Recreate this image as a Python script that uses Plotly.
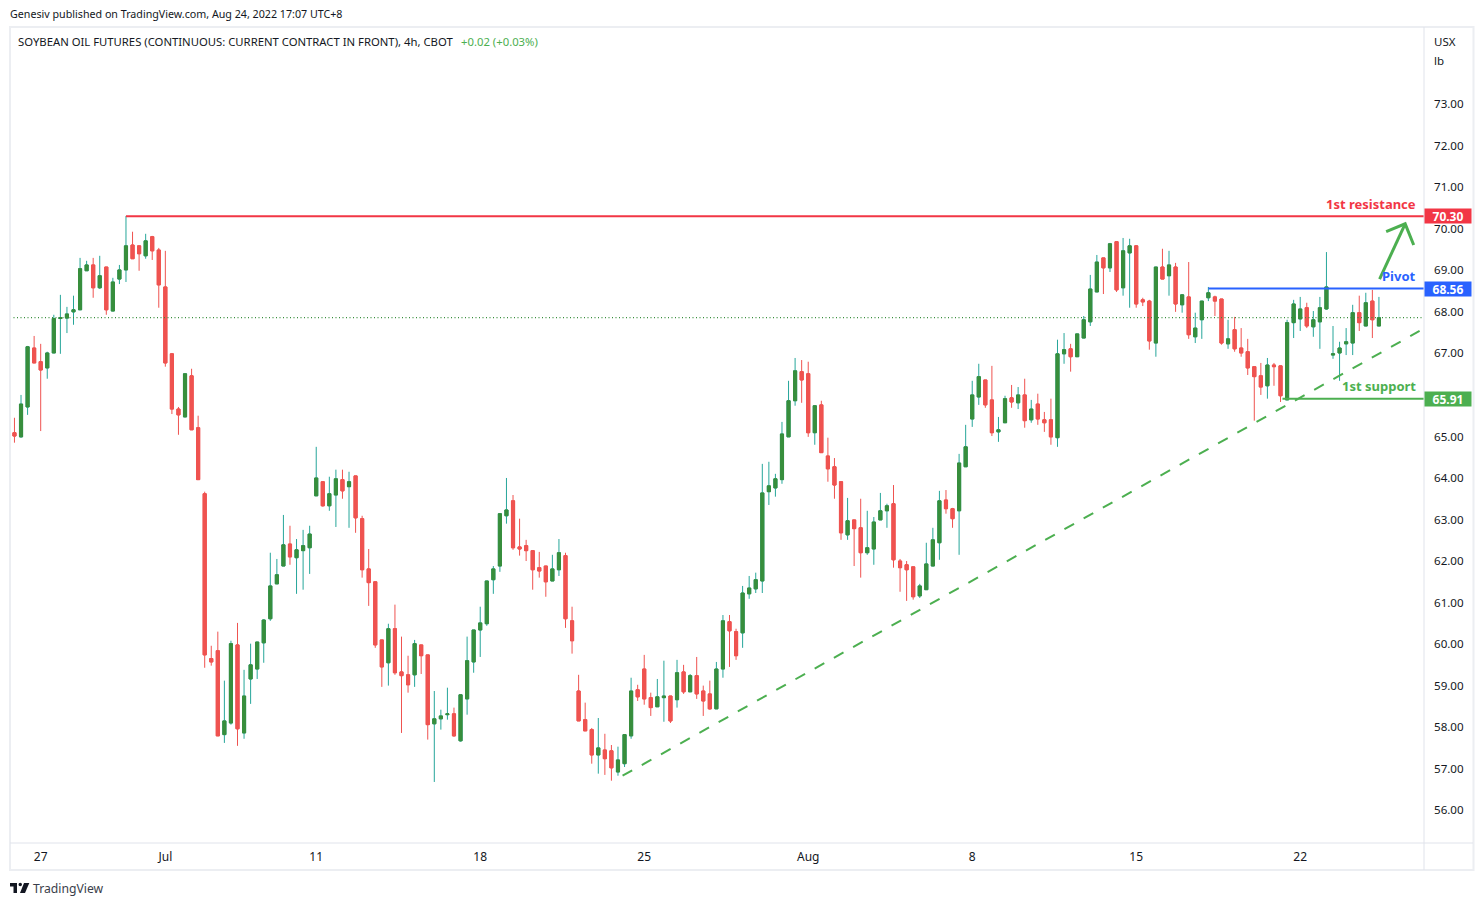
import plotly.graph_objects as go

# candles, 4h bars
opens = [65.09,64.99,65.71,67.13,66.80,66.65,67.01,67.84,67.85,68.00,
         68.05,68.99,69.13,68.58,69.08,68.02,68.79,69.01,69.61,69.59,
         69.35,69.81,69.49,68.60,66.99,65.66,65.47,66.46,65.21,63.62,
         59.65,59.84,57.82,58.10,59.98,57.86,59.16,59.40,60.03,60.61,
         61.45,61.88,62.41,62.08,62.25,62.32,63.57,63.91,63.33,63.59,
         63.96,63.79,64.05,63.02,61.81,61.50,60.10,59.55,60.37,59.33,
         59.26,59.26,59.98,59.74,58.08,58.20,58.30,58.32,57.67,58.68,
         59.57,60.34,60.49,61.55,61.88,63.09,63.45,62.34,62.37,62.25,
         61.84,61.88,61.52,61.79,62.13,60.56,58.87,58.18,57.94,57.33,
         57.45,57.43,56.92,57.12,57.79,58.90,59.40,58.71,58.49,58.71,
         58.75,58.66,59.33,58.85,59.24,58.87,58.80,58.44,59.40,60.54,
         60.30,60.27,61.21,61.33,61.52,63.67,63.76,63.96,64.99,65.86,
         66.56,66.51,65.09,65.76,64.53,64.27,63.91,62.63,62.99,62.80,
         62.20,62.29,62.99,63.21,63.38,62.00,61.91,61.86,61.16,61.31,
         61.88,62.44,63.47,63.26,63.21,64.27,65.42,65.95,66.36,65.88,
         65.11,65.33,65.93,65.81,66.00,65.40,65.78,65.40,65.40,64.97,
         66.99,67.11,66.92,67.37,67.76,68.48,69.30,69.06,69.69,68.58,
         69.42,69.59,68.29,68.26,67.25,69.08,68.87,69.08,68.17,68.36,
         67.40,67.81,68.34,68.36,68.31,67.23,67.57,67.13,67.04,66.68,
         66.46,66.22,66.72,66.70,65.88,67.74,67.83,68.10,67.64,67.76,
         68.07,66.96,67.01,67.23,67.25,67.98,67.66,68.26,67.66]
highs = [65.45,66.00,67.18,67.42,67.23,67.04,67.93,68.41,68.12,68.39,
         69.30,69.23,69.30,69.35,69.08,68.82,69.13,70.31,69.93,69.59,
         69.88,69.83,69.54,69.47,67.01,65.71,66.51,66.63,65.50,63.67,
         59.96,60.30,59.12,60.08,60.51,59.38,60.01,60.05,60.60,62.20,
         62.05,63.11,62.85,62.53,62.75,62.85,64.75,63.91,64.03,64.20,
         64.20,64.15,64.05,63.09,62.29,61.50,60.10,60.49,60.95,60.18,
         59.72,60.10,59.98,59.74,58.87,58.42,58.95,58.47,58.78,60.18,
         60.34,60.90,61.52,61.88,63.14,64.00,63.59,63.02,62.51,62.25,
         62.22,61.88,62.15,62.53,62.20,60.90,59.26,58.59,57.98,58.22,
         57.84,57.57,57.53,57.82,59.19,59.02,59.74,58.83,59.16,59.60,
         58.75,59.62,59.50,59.28,59.69,59.00,59.12,59.57,60.70,60.70,
         60.37,61.40,61.64,61.72,64.34,64.39,64.10,65.35,66.34,66.89,
         66.84,66.80,65.74,65.86,64.97,64.48,63.91,63.52,62.99,63.50,
         63.21,63.06,63.64,63.38,63.83,62.05,62.00,61.86,61.45,62.44,
         62.80,63.69,63.71,63.28,64.58,65.28,66.34,66.75,66.36,66.70,
         65.47,65.98,66.24,66.19,66.39,65.88,66.03,65.59,65.91,67.33,
         67.49,67.23,67.47,67.90,68.89,69.37,69.30,69.66,69.69,69.78,
         69.76,69.61,68.34,68.29,69.08,69.52,69.47,69.18,68.43,69.20,
         67.98,68.26,68.60,68.39,68.31,67.81,67.88,67.61,67.35,66.68,
         66.77,66.89,66.77,66.70,67.81,68.29,68.36,68.22,68.02,68.36,
         69.44,67.66,67.28,67.61,68.17,68.39,68.46,68.53,68.36]
lows = [64.85,64.97,65.52,66.77,65.13,66.39,67.01,66.99,67.49,67.69,
        68.05,68.99,68.34,68.55,67.93,68.02,68.67,68.72,69.28,68.99,
        69.28,69.25,68.10,66.68,65.54,65.04,65.47,65.16,63.96,59.43,
        59.48,57.79,57.62,58.06,57.55,57.72,58.56,59.16,59.55,60.56,
        61.45,61.88,61.91,61.21,61.31,61.69,63.57,63.31,63.21,62.82,
        63.50,62.80,62.68,61.60,60.92,59.91,58.97,59.00,59.26,57.86,
        58.83,58.97,59.28,57.70,56.68,57.94,58.18,57.77,57.65,58.30,
        59.31,59.69,60.44,61.21,61.74,62.90,62.27,62.13,62.00,61.31,
        61.60,61.14,61.52,61.64,60.39,59.77,58.15,57.91,57.12,56.88,
        56.85,56.71,56.83,57.04,57.72,58.63,58.54,58.27,58.49,58.13,
        58.10,58.47,58.80,58.85,58.68,58.27,58.42,58.44,59.19,59.45,
        59.62,59.91,61.09,61.23,61.23,63.35,63.55,63.86,64.99,65.74,
        65.81,64.99,64.80,64.61,63.91,63.50,62.51,62.51,61.88,61.60,
        62.15,61.91,62.99,62.80,61.84,61.26,61.04,61.07,61.11,61.31,
        61.88,62.03,63.14,62.80,62.15,64.27,65.23,65.76,65.69,65.01,
        64.87,65.33,65.69,65.66,65.21,65.33,65.28,65.11,64.80,64.75,
        66.75,66.56,66.92,67.37,67.66,68.48,68.43,68.96,68.48,68.39,
        68.10,68.10,68.14,67.09,66.92,68.79,68.39,68.00,67.98,67.35,
        67.25,67.35,68.26,67.90,67.21,67.11,67.04,66.92,66.48,65.38,
        66.00,65.91,66.22,65.83,65.88,67.37,67.54,67.61,67.40,67.11,
        68.05,66.87,66.34,66.96,66.96,67.54,67.66,67.37,67.66]
closes = [65.01,65.78,67.16,66.77,66.60,67.01,67.84,67.86,67.95,68.05,
          69.04,69.13,68.58,68.87,68.05,68.72,69.01,69.59,69.28,69.40,
          69.71,69.47,68.65,66.77,65.66,65.52,66.51,65.16,63.96,59.74,
          59.57,57.79,58.15,60.01,57.96,58.75,59.50,60.05,60.58,61.40,
          61.67,62.39,62.10,62.27,62.37,62.65,64.00,63.33,63.62,63.98,
          63.69,63.91,63.04,61.79,61.48,59.98,59.45,60.37,59.31,59.24,
          59.02,60.01,59.72,58.06,58.20,58.27,58.32,57.79,58.78,59.60,
          60.34,60.51,61.52,61.81,63.14,63.23,62.32,62.29,62.25,61.79,
          61.76,61.50,61.81,62.20,60.61,60.08,58.15,57.91,57.33,57.50,
          57.24,57.02,57.21,57.82,58.87,58.73,58.68,58.47,58.73,58.75,
          58.15,59.31,58.85,59.24,58.80,58.63,58.44,59.40,60.56,60.32,
          59.72,61.23,61.35,61.55,63.64,63.81,63.98,65.06,65.86,66.58,
          66.36,65.09,65.74,64.61,64.22,63.83,62.68,62.97,62.78,62.20,
          62.32,62.94,63.21,63.33,62.03,61.84,61.79,61.14,61.40,61.93,
          62.51,63.45,63.26,63.02,64.36,64.75,66.00,66.44,65.76,65.09,
          65.16,65.91,65.83,66.00,65.38,65.66,65.42,65.33,64.99,66.99,
          67.09,66.92,67.47,67.81,68.55,69.20,69.06,69.64,68.53,69.47,
          69.59,68.19,68.24,67.30,69.08,68.79,69.13,68.19,68.41,67.45,
          67.61,68.26,68.46,68.26,67.25,67.35,67.11,67.01,66.65,66.44,
          66.19,66.72,66.68,65.98,67.74,68.19,68.07,67.66,67.81,68.10,
          68.60,66.99,67.13,67.28,67.98,67.74,68.22,67.81,67.86]

date_pos = [4, 23, 46, 71, 96, 121, 146, 171, 196]
date_labels = ["27", "Jul", "11", "18", "25", "Aug", "8", "15", "22"]
price_ticks = [73, 72, 71, 70, 69, 68, 67, 65, 64, 63, 62, 61, 60, 59, 58, 57, 56]

resistance = 70.30
pivot = 68.56
support = 65.91
resistance_start = 17
pivot_start = 182
support_start = 193.3
trend_x = [92.7, 214.2]
trend_y = [56.83, 67.54]
arrow_x = [208.1, 212.0, None, 209.1, 212.0, 213.3]
arrow_y = [68.79, 70.12, None, 69.93, 70.12, 69.61]

UP_BODY = "#388e3c"
UP_WICK = "#26a69a"
DOWN = "#ef5350"
RED = "#f23645"
BLUE = "#2962ff"
GREEN = "#4caf50"
TEXT = "#131722"
FONT = "Noto Sans"

# plot box in page pixels
L, R, T, B = 10, 1424, 27, 843


def px(x):
    return (x - L) / (R - L)


def py(y):
    return (B - y) / (B - T)


x = list(range(len(opens)))
body_hi = [max(o, c) for o, c in zip(opens, closes)]
body_lo = [min(o, c) for o, c in zip(opens, closes)]

fig = go.Figure()
fig.add_trace(go.Candlestick(x=x, open=opens, high=highs, low=lows, close=closes,
                             increasing=dict(line=dict(color=UP_WICK, width=1), fillcolor=UP_WICK),
                             decreasing=dict(line=dict(color=DOWN, width=1), fillcolor=DOWN),
                             whiskerwidth=0))
# second pass so the bodies cover the teal wick colour
fig.add_trace(go.Candlestick(x=x, open=opens, high=body_hi, low=body_lo, close=closes,
                             increasing=dict(line=dict(color=UP_BODY, width=1), fillcolor=UP_BODY),
                             decreasing=dict(line=dict(color=DOWN, width=1), fillcolor=DOWN),
                             whiskerwidth=0))
fig.add_trace(go.Scatter(x=trend_x, y=trend_y, mode="lines",
                         line=dict(color=GREEN, width=2, dash="11px,11px")))
fig.add_trace(go.Scatter(x=arrow_x, y=arrow_y, mode="lines",
                         line=dict(color=GREEN, width=3)))

shapes = []
# last price
shapes.append(dict(type="line", xref="paper", yref="y", x0=0, x1=1, y0=closes[-1], y1=closes[-1],
                   line=dict(color=UP_BODY, width=1.2, dash="1px,2.5px")))
for start, level, color in [(resistance_start, resistance, RED),
                            (pivot_start, pivot, BLUE),
                            (support_start, support, GREEN)]:
    shapes.append(dict(type="line", xref="x", yref="y", x0=start, x1=215, y0=level, y1=level,
                       line=dict(color=color, width=2)))
# frame
shapes.append(dict(type="rect", xref="paper", yref="paper", x0=px(10), x1=px(1473.5), y0=py(870), y1=py(27),
                   line=dict(color="#eceef2", width=2)))
shapes.append(dict(type="line", xref="paper", yref="paper", x0=1, x1=1, y0=py(870), y1=py(27),
                   line=dict(color="#e0e3eb", width=1)))
shapes.append(dict(type="line", xref="paper", yref="paper", x0=0, x1=px(1473), y0=0, y1=0,
                   line=dict(color="#e0e3eb", width=1)))
# TradingView mark
logo_paths = ["M10,883 L17,883 L17,893 L13.5,893 L13.5,886.5 L10,886.5 Z",
              "M24,883 L29.3,883 L25,893 L20,893 Z"]
for p in logo_paths:
    pts = p.replace("M", "").replace("L", "").replace("Z", "").split()
    path = ""
    for n, pt in enumerate(pts):
        a, b = pt.split(",")
        path += ("M" if n == 0 else "L") + f"{px(float(a)):.5f},{py(float(b)):.5f} "
    shapes.append(dict(type="path", xref="paper", yref="paper", path=path + "Z",
                       fillcolor="#131722", line=dict(width=0)))
shapes.append(dict(type="circle", xref="paper", yref="paper", x0=px(18.5), x1=px(22), y0=py(886.3), y1=py(882.8),
                   fillcolor="#131722", line=dict(width=0)))


def label(text, x_px, y_px, size=12, color=TEXT, anchor="left", bold=False):
    if bold:
        text = "<b>" + text + "</b>"
    # annotations sit about 2px inside their anchor
    x_px = x_px - 2 if anchor == "left" else x_px + 2
    fig.add_annotation(text=text, xref="paper", yref="paper", x=px(x_px), y=py(y_px),
                       xanchor=anchor, yanchor="middle", showarrow=False,
                       font=dict(family=FONT, size=size, color=color))


label("Genesiv published on TradingView.com, Aug 24, 2022 17:07 UTC+8", 10, 14, size=10.7)
label("SOYBEAN OIL FUTURES (CONTINUOUS: CURRENT CONTRACT IN FRONT), 4h, CBOT", 18, 41, size=11.3)
label("+0.02 (+0.03%)", 461, 41, size=11.3, color=GREEN)
label("TradingView", 33, 888, size=12.2, color="#3a3e4a")
label("USX", 1434, 41, size=11.5)
label("lb", 1434, 61, size=11.5)
label("1st resistance", 1416, 204, size=13, color=RED, anchor="right", bold=True)
label("Pivot", 1416, 276, size=13, color=BLUE, anchor="right", bold=True)
label("1st support", 1416, 386, size=13, color=GREEN, anchor="right", bold=True)

# price tags on the right scale
for level, color in [(resistance, RED), (pivot, BLUE), (support, GREEN)]:
    fig.add_annotation(text=f"<b>{level:.2f}</b>", xref="paper", yref="y", x=1, y=level,
                       xanchor="left", yanchor="middle", showarrow=False, width=46, height=14,
                       bgcolor=color, borderpad=0, align="center",
                       font=dict(family=FONT, size=12, color="white"))

fig.update_layout(
    width=1484, height=906, autosize=False,
    margin=dict(l=L, r=1484 - R, t=T, b=906 - B),
    paper_bgcolor="white", plot_bgcolor="white",
    showlegend=False, boxgap=0.32, shapes=shapes,
    xaxis=dict(range=[-0.68, 214.87], rangeslider=dict(visible=False), showgrid=False, zeroline=False,
               tickmode="array", tickvals=date_pos, ticktext=date_labels, ticks="", ticklabelstandoff=5,
               tickfont=dict(family=FONT, size=12, color=TEXT)),
    yaxis=dict(range=[55.21, 74.86], side="right", showgrid=False, zeroline=False,
               tickmode="array", tickvals=price_ticks, ticktext=[f"{v:.2f}" for v in price_ticks],
               ticks="", ticklabelstandoff=9,
               tickfont=dict(family=FONT, size=11.6, color=TEXT)),
)

fig.write_html("out.html", config=dict(displayModeBar=False),
               post_script="document.body.style.margin='0';")
